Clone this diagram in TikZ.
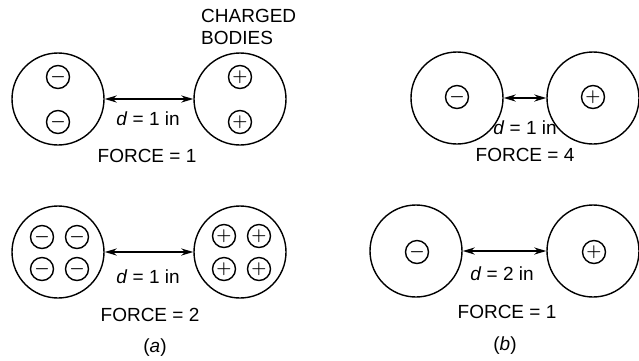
\documentclass[tikz,border=0pt]{standalone}
\usepackage{fontspec}
\setmainfont{Liberation Sans}
\usetikzlibrary{arrows.meta}
\begin{document}
\begin{tikzpicture}[x=1pt, y=-1pt, >={Stealth[length=12pt,width=7pt]},
  body/.style={circle, draw, line width=1.4pt, minimum size=92pt, inner sep=0pt},
  charge/.style={circle, draw, line width=1.4pt, minimum size=23pt, inner sep=0pt, font=\fontsize{17}{17}\selectfont\boldmath},
  lbl/.style={font=\fontsize{19}{22}\selectfont, inner sep=0pt},
  gap/.style={<->, line width=2.2pt}]
  \useasboundingbox (0,0) rectangle (639,360);

  % (a) oben: je zwei Ladungen
  \node[body] (aol) at (58,99) {};
  \node[body] (aor) at (240,99) {};
  \node[charge] (aol1) at (58,77) {$-$};
  \node[charge] (aol2) at (58,122) {$-$};
  \node[charge] (aor1) at (240,77) {$+$};
  \node[charge] (aor2) at (240,122) {$+$};
  \draw[gap] (aol.east) -- (aor.west);
  \node[lbl] (aod) at (148,119) {\textit{d} = 1 in};
  \node[lbl] (aof) at (147,156) {FORCE = 1};
  \node[lbl, anchor=west, align=left] (kb) at (201,27) {CHARGED\\BODIES};

  % (a) unten: je vier Ladungen
  \node[body] (aul) at (58,252) {};
  \node[body] (aur) at (240,252) {};
  \node[charge] (aul1) at (42,237) {$-$};
  \node[charge] (aul2) at (77,237) {$-$};
  \node[charge] (aul3) at (42,269) {$-$};
  \node[charge] (aul4) at (77,269) {$-$};
  \node[charge] (aur1) at (224,236) {$+$};
  \node[charge] (aur2) at (259,236) {$+$};
  \node[charge] (aur3) at (224,269) {$+$};
  \node[charge] (aur4) at (259,269) {$+$};
  \draw[gap] (aul.east) -- (aur.west);
  \node[lbl] (aud) at (148,277) {\textit{d} = 1 in};
  \node[lbl] (auf) at (150,315) {FORCE = 2};
  \node[lbl] (capa) at (155,348) {(\textit{a})};

  % (b) oben: kleiner Abstand
  \node[body] (bol) at (457,98) {};
  \node[body] (bor) at (593,98) {};
  \node[charge] (bol1) at (457,97) {$-$};
  \node[charge] (bor1) at (593,97) {$+$};
  \draw[gap] (bol.east) -- (bor.west);
  \node[lbl] (bod) at (525,128) {\textit{d} = 1 in};
  \node[lbl] (bof) at (525,155) {FORCE = 4};

  % (b) unten: doppelter Abstand
  \node[body] (bul) at (416,251) {};
  \node[body] (bur) at (593,251) {};
  \node[charge] (bul1) at (417,252) {$-$};
  \node[charge] (bur1) at (594,252) {$+$};
  \draw[gap] (bul.east) -- (bur.west);
  \node[lbl] (bud) at (502,274) {\textit{d} = 2 in};
  \node[lbl] (buf) at (507,312) {FORCE = 1};
  \node[lbl] (capb) at (505,346) {(\textit{b})};
\end{tikzpicture}
\end{document}
